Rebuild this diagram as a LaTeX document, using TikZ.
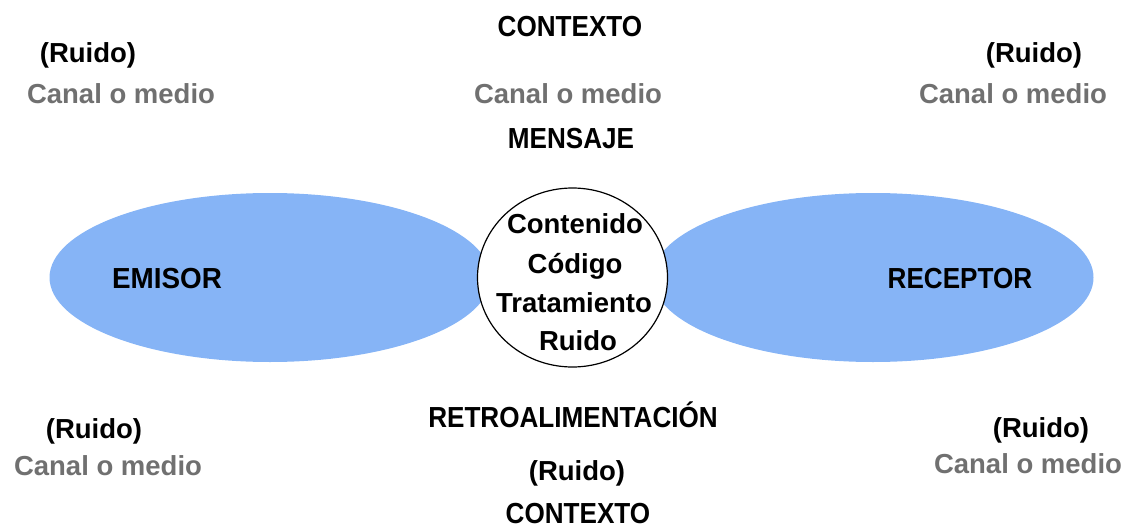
\documentclass[tikz,border=0pt]{standalone}
\usepackage{fontspec}
\setmainfont{Liberation Sans}
\newfontfamily\capsfont[FakeStretch=0.9]{Liberation Sans}
\newfontfamily\emisfont[FakeStretch=0.96]{Liberation Sans}
\usetikzlibrary{shapes.geometric}
\definecolor{blobblue}{RGB}{134,180,246}
\definecolor{chgray}{RGB}{112,112,112}
\tikzset{
  lbl/.style={anchor=base, inner sep=0pt, font=\fontsize{27.5}{33}\selectfont\bfseries, text=black},
  caps/.style={lbl, font=\capsfont\fontsize{29}{34}\selectfont\bfseries},
  capsw/.style={lbl, font=\emisfont\fontsize{29}{34}\selectfont\bfseries},
  canal/.style={lbl, text=chgray},
  blob/.style={ellipse, fill=blobblue, draw=none, inner sep=0pt, minimum width=441pt, minimum height=169pt},
  msg/.style={ellipse, fill=white, draw=black, line width=1.2pt, inner sep=0pt, minimum width=190pt, minimum height=179pt}
}
\begin{document}
\begin{tikzpicture}[x=1pt,y=-1pt]
\useasboundingbox (0,0) rectangle (1132,527);
% shapes
\node[blob] (emisorblob) at (270,277.5) {};
\node[blob] (receptorblob) at (873,277.5) {};
\node[msg] (mensajecircle) at (572.5,277.5) {};
% top
\node[caps] (contextotop) at (570,37) {CONTEXTO};
\node[lbl] (ruidotl) at (88,63) {(Ruido)};
\node[canal] (canaltl) at (121,103) {Canal o medio};
\node[canal] (canaltc) at (568,103) {Canal o medio};
\node[lbl] (ruidotr) at (1034,63) {(Ruido)};
\node[canal] (canaltr) at (1013,103) {Canal o medio};
\node[caps] (mensaje) at (571,148) {MENSAJE};
% middle
\node[capsw] (emisor) at (167,288) {EMISOR};
\node[caps] (receptor) at (960,288) {RECEPTOR};
\node[lbl] (contenido) at (575,233) {Contenido};
\node[lbl] (codigo) at (575,273) {Código};
\node[lbl] (tratamiento) at (574,312) {Tratamiento};
\node[lbl] (ruidoc) at (578,350) {Ruido};
% bottom
\node[caps] (retro) at (573,427) {RETROALIMENTACIÓN};
\node[lbl] (ruidobl) at (94,438) {(Ruido)};
\node[canal] (canalbl) at (108,475) {Canal o medio};
\node[lbl] (ruidobc) at (577,480) {(Ruido)};
\node[caps] (contextobot) at (578,523) {CONTEXTO};
\node[lbl] (ruidobr) at (1041,437) {(Ruido)};
\node[canal] (canalbr) at (1028,473) {Canal o medio};
\end{tikzpicture}
\end{document}
